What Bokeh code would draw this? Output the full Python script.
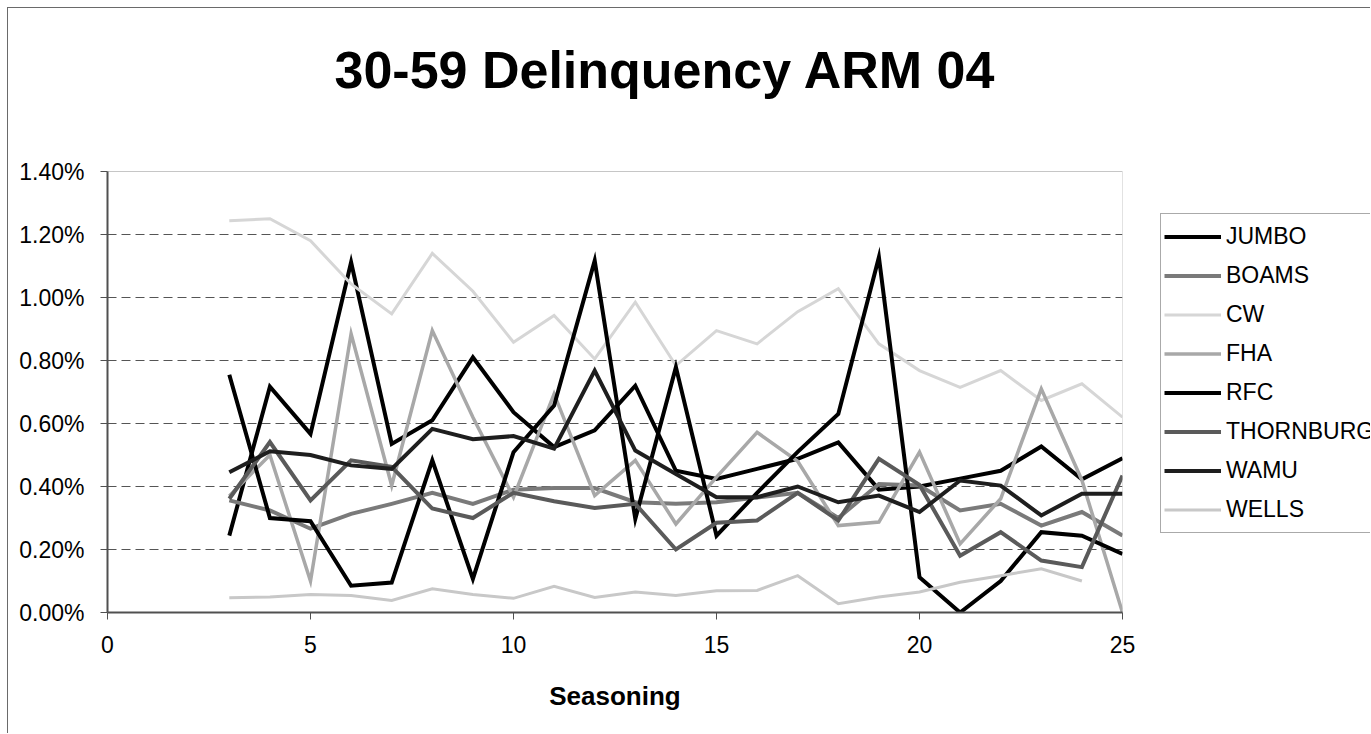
from bokeh.plotting import figure
from bokeh.layouts import row
from bokeh.models import (Range1d, FixedTicker, PrintfTickFormatter, Legend, LegendItem, Label)
from bokeh.embed import file_html
from bokeh.resources import INLINE

# ---- data (values in percent) ----
seasoning = list(range(3, 26))
jumbo = [0.244, 0.717, 0.567, 1.112, 0.535, 0.610, 0.810, 0.636, 0.525, 0.578, 0.720, 0.450,
         0.424, 0.456, 0.488, 0.540, 0.390, 0.400, 0.425, 0.450, 0.527, 0.423, 0.490]
boams = [0.356, 0.324, 0.266, 0.313, 0.345, 0.380, 0.345, 0.390, 0.395, 0.395, 0.350, 0.345,
         0.350, 0.365, 0.380, 0.300, 0.408, 0.403, 0.324, 0.345, 0.276, 0.319, 0.244]
cw = [1.244, 1.250, 1.180, 1.043, 0.948, 1.140, 1.020, 0.858, 0.943, 0.805, 0.985, 0.784,
      0.895, 0.853, 0.955, 1.028, 0.853, 0.768, 0.715, 0.768, 0.673, 0.726, 0.620]
fha = [0.370, 0.500, 0.100, 0.885, 0.403, 0.895, 0.620, 0.366, 0.694, 0.371, 0.483, 0.281,
       0.430, 0.572, 0.480, 0.276, 0.287, 0.509, 0.218, 0.361, 0.710, 0.420, 0.000]
rfc = [0.755, 0.300, 0.290, 0.085, 0.095, 0.483, 0.107, 0.509, 0.657, 1.117, 0.297, 0.779,
       0.244, 0.380, 0.510, 0.630, 1.128, 0.112, 0.000, 0.100, 0.255, 0.244, 0.186]
thornburg = [0.361, 0.541, 0.356, 0.483, 0.462, 0.330, 0.300, 0.380, 0.353, 0.332, 0.345, 0.200,
             0.285, 0.292, 0.380, 0.292, 0.488, 0.405, 0.180, 0.255, 0.165, 0.144, 0.435]
wamu = [0.445, 0.512, 0.500, 0.467, 0.456, 0.583, 0.550, 0.560, 0.520, 0.768, 0.514, 0.440,
        0.366, 0.366, 0.400, 0.350, 0.371, 0.319, 0.419, 0.403, 0.308, 0.377, 0.377]
wells = [0.047, 0.049, 0.057, 0.054, 0.038, 0.075, 0.057, 0.045, 0.083, 0.048, 0.065, 0.054,
         0.069, 0.070, 0.117, 0.028, 0.049, 0.065, 0.096, 0.117, 0.139, 0.100, float("nan")]

series_names = ["JUMBO", "BOAMS", "CW", "FHA", "RFC", "THORNBURG", "WAMU", "WELLS"]
series_values = [jumbo, boams, cw, fha, rfc, thornburg, wamu, wells]
series_colors = ["#000000", "#7a7a7a", "#d6d6d6", "#a8a8a8", "#000000", "#5a5a5a", "#1e1e1e", "#c8c8c8"]
series_widths = [4, 4, 3, 3.5, 4, 4, 4, 3]

x_ticks = [0, 5, 10, 15, 20, 25]
y_ticks = [0.0, 0.2, 0.4, 0.6, 0.8, 1.0, 1.2, 1.4]
title_text = "30-59 Delinquency ARM 04"

FONT = "Liberation Sans"

# ---- layout constants (pixels) ----
H = 725
BOTTOM = 121          # space below plot area
PLOT_H = 441          # height of the plot area (0 .. 1.4 %)
y_top = y_ticks[-1] * (H - BOTTOM) / PLOT_H   # frame reaches up to the canvas top (room for the title)

# ---- main chart ----
p = figure(width=1140, height=H, output_backend="svg", toolbar_location=None,
           x_range=Range1d(0, 25), y_range=Range1d(0, y_top),
           min_border_left=99, min_border_right=26, min_border_top=0, min_border_bottom=BOTTOM)
p.background_fill_color = "white"
p.border_fill_color = "white"
p.outline_line_color = None

p.xaxis.ticker = FixedTicker(ticks=x_ticks)
p.yaxis.ticker = FixedTicker(ticks=y_ticks)
p.yaxis.bounds = (y_ticks[0], y_ticks[-1])
p.xaxis.bounds = (x_ticks[0], x_ticks[-1])
p.yaxis.formatter = PrintfTickFormatter(format="%.2f%%")
for ax in (p.xaxis[0], p.yaxis[0]):
    ax.axis_line_color = "#505050"
    ax.axis_line_width = 2
    ax.major_tick_line_color = "#505050"
    ax.major_tick_line_width = 1
    ax.major_tick_out = 7
    ax.major_tick_in = 0
    ax.minor_tick_line_color = None
    ax.major_label_text_font = FONT
    ax.major_label_text_font_size = "23px"
    ax.major_label_text_color = "#000000"
p.yaxis.major_label_standoff = 16
p.xaxis.major_label_standoff = 16
p.xaxis.axis_label = "Seasoning"
p.xaxis.axis_label_text_font = FONT
p.xaxis.axis_label_text_font_size = "26px"
p.xaxis.axis_label_text_font_style = "bold"
p.xaxis.axis_label_text_color = "#000000"
p.xaxis.axis_label_standoff = 25

p.xgrid.grid_line_color = None
p.ygrid.ticker = FixedTicker(ticks=y_ticks[1:-1])
p.ygrid.grid_line_color = "#555555"
p.ygrid.grid_line_dash = "9 5"
p.ygrid.grid_line_width = 1

# plot-area border (dotted, Excel style)
p.quad(left=x_ticks[0], right=x_ticks[-1], bottom=y_ticks[0], top=y_ticks[-1],
       fill_color=None, line_color="#8c8c8c", line_dash="1 1", line_width=1)

for vals, col, w in zip(series_values, series_colors, series_widths):
    p.line(seasoning, vals, line_color=col, line_width=w, line_join="miter", line_cap="butt")

# title
p.add_layout(Label(x=227, y=(H - BOTTOM) - 61, x_units="screen", y_units="screen",
                   text=title_text, text_font=FONT, text_font_size="52px",
                   text_font_style="bold", text_color="#000000",
                   text_align="left", text_baseline="alphabetic"))

# ---- legend panel (separate canvas to the right of the chart) ----
p2 = figure(width=222, height=H, output_backend="svg", toolbar_location=None,
            x_axis_type=None, y_axis_type=None,
            x_range=Range1d(0, 1), y_range=Range1d(0, 1),
            min_border_left=0, min_border_right=0, min_border_top=0, min_border_bottom=0)
p2.outline_line_color = None
p2.background_fill_color = "white"
p2.border_fill_color = "white"

items = []
for name, vals, col, w in zip(series_names, series_values, series_colors, series_widths):
    # same series, drawn outside this panel's visible range; only used for the legend keys
    r = p2.line(seasoning, vals, line_color=col, line_width=w, line_cap="butt")
    items.append(LegendItem(label=name, renderers=[r]))

legend = Legend(items=items, location=(12, 79), orientation="vertical",
                padding=3, spacing=0, label_height=39, glyph_height=39, glyph_width=57,
                label_standoff=5, margin=0,
                label_text_font=FONT, label_text_font_size="23px", label_text_color="#000000",
                border_line_color="#555555", border_line_width=1,
                background_fill_color="white", background_fill_alpha=1.0)
p2.add_layout(legend)

layout = row(p, p2, spacing=0)
layout.styles = {"margin-left": "7px", "margin-top": "7px",
                 "border-left": "1px solid #6a6a6a", "border-top": "1px solid #6a6a6a"}

open("out.html", "w").write(file_html(layout, INLINE))
